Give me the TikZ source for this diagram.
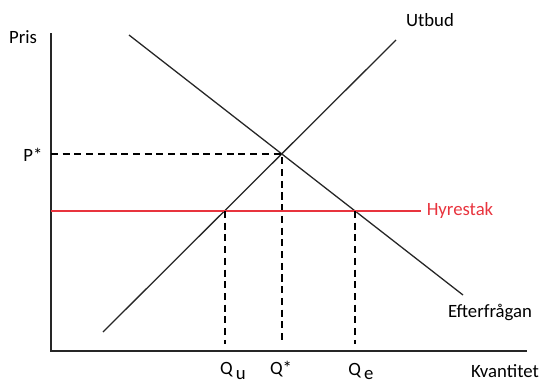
\documentclass[tikz,border=0pt]{standalone}
\usepackage{fontspec}
\setmainfont{Carlito}
\usetikzlibrary{positioning}
\definecolor{takred}{RGB}{232,52,62}
\begin{document}
\begin{tikzpicture}[x=0.03cm,y=-0.03cm,
  axis/.style={line width=1.6pt,black!85},
  curve/.style={line width=1.1pt,black!85},
  guide/.style={line width=1.1pt,dash pattern=on 6pt off 4pt},
  lbl/.style={font=\fontsize{16}{19}\selectfont,inner sep=1pt}]
\useasboundingbox (0,0) rectangle (542,383);
% axes
\coordinate (o) at (51,351);
\coordinate (ytop) at (51,33);
\coordinate (xend) at (527,351);
\draw[axis] (ytop) -- (o) -- (xend);
% supply and demand
\coordinate (s0) at (103,332);
\coordinate (s1) at (396,40);
\coordinate (d0) at (129,35);
\coordinate (d1) at (463,295);
\draw[curve] (s0) -- (s1);
\draw[curve] (d0) -- (d1);
% equilibrium
\coordinate (eq) at (282,154);
\draw[guide] (eq -| o) -- (eq) -- ([yshift=6pt]eq |- o);
% price ceiling
\coordinate (c0) at (51,211);
\coordinate (c1) at (421,211);
\coordinate (qu) at (225,211);
\coordinate (qe) at (355,211);
\draw[takred,line width=1.1pt] (c0) -- (c1);
\draw[guide] (qu) -- ([yshift=6pt]qu |- o);
\draw[guide] (qe) -- ([yshift=6pt]qe |- o);
% labels
\node[lbl] (pris) at (23,37) {Pris};
\node[lbl] (pstar) at (33,155) {P*};
\node[lbl] (utbud) at (430,20) {Utbud};
\node[lbl,text=takred] (tak) at (460,210) {Hyrestak};
\node[lbl] (eftf) at (490,312) {Efterfrågan};
\node[lbl] (kvant) at (505,371) {Kvantitet};
\node[lbl] (qulbl) at (233,371) {Q\,\raisebox{-0.55ex}{u}};
\node[lbl] (qstar) at (281,369) {Q*};
\node[lbl] (qelbl) at (361,371) {Q\,\raisebox{-0.45ex}{e}};
\end{tikzpicture}
\end{document}
